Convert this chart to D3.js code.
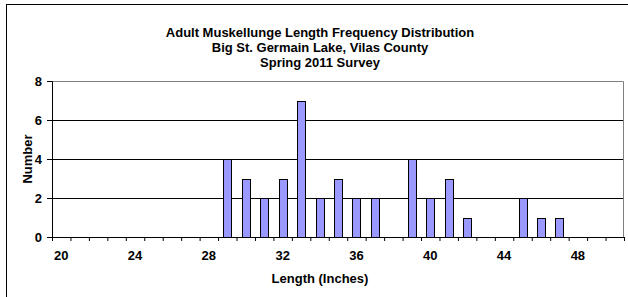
<!DOCTYPE html>
<html>
<head>
<meta charset="utf-8">
<script src="https://cdn.jsdelivr.net/npm/d3@7"></script>
<style>
  body { margin: 0; background: #fff; }
  text { font-family: "Liberation Sans", Arial, sans-serif; font-weight: bold; }
</style>
</head>
<body>
<svg id="chart" width="628" height="297"></svg>
<script>
// lengths in inches (one category per inch)
const lengths = d3.range(20, 51);
// number of fish per inch group
const counts = [0, 0, 0, 0, 0, 0, 0, 0, 0, 4, 3, 2, 3, 7, 2, 3, 2, 2, 0, 4, 2, 3, 1, 0, 0, 2, 1, 1, 0, 0, 0];
const xLabels = [20, 24, 28, 32, 36, 40, 44, 48];
const yTicks = [0, 2, 4, 6, 8];
const titleLines = [
  'Adult Muskellunge Length Frequency Distribution',
  'Big St. Germain Lake, Vilas County',
  'Spring 2011 Survey'
];

const data = lengths.map((d, i) => ({ len: d, n: counts[i] }));

const margin = { top: 81, right: 4, bottom: 60, left: 52 };
const W = 628, H = 297;
const width = W - margin.left - margin.right;
const height = H - margin.top - margin.bottom;
const fontSize = '13px';

const svg = d3.select('#chart');

// outer chart border
svg.append('rect')
  .attr('x', 6.5).attr('y', 4.5)
  .attr('width', 640).attr('height', 320)
  .style('fill', 'white').style('stroke', '#000');

// titles
svg.append('g').attr('class', 'title')
  .selectAll('text')
  .data(titleLines)
  .join('text')
    .attr('x', 320)
    .attr('y', (d, i) => 36.5 + i * 15)
    .attr('text-anchor', 'middle')
    .style('font-size', fontSize)
    .text(d => d);

const g = svg.append('g')
  .attr('class', 'chart-group')
  .attr('transform', `translate(${margin.left}, ${margin.top})`);

const x = d3.scaleBand()
  .domain(lengths)
  .range([0, width])
  .paddingInner(0.57)
  .paddingOuter(0.285);

const xEdge = d3.scaleLinear()
  .domain([0, lengths.length])
  .range([0, width]);

const y = d3.scaleLinear()
  .domain([0, 8])
  .range([height, 0]);

// grid lines
g.append('g').attr('class', 'grid--y')
  .selectAll('line')
  .data(yTicks.filter(d => d > 0 && d < 8))
  .join('line')
    .attr('x1', 0).attr('x2', width)
    .attr('y1', d => Math.round(y(d)) + 0.5)
    .attr('y2', d => Math.round(y(d)) + 0.5)
    .style('stroke', '#000');

// plot frame (top and right in gray)
g.append('path')
  .attr('d', `M0.5,${Math.round(y(8)) + 0.5}H${width - 0.5}V${height}`)
  .style('fill', 'none')
  .style('stroke', '#808080');

// bars
g.append('g').attr('class', 'bars')
  .selectAll('rect')
  .data(data.filter(d => d.n > 0))
  .join('rect')
    .attr('x', d => Math.round(x(d.len)) + 0.5)
    .attr('y', d => Math.round(y(d.n)) + 0.5)
    .attr('width', Math.round(x.bandwidth()))
    .attr('height', d => Math.round(y(0)) - Math.round(y(d.n)))
    .style('fill', '#9999FF')
    .style('stroke', '#000');

const styleText = s => s.selectAll('text')
  .style('font-size', fontSize)
  .style('font-family', '"Liberation Sans", Arial, sans-serif')
  .style('font-weight', 'bold')
  .style('fill', '#000');

// x axis: ticks at category edges
const xAxis = g.append('g').attr('class', 'axis--x')
  .attr('transform', `translate(0, ${height})`);
xAxis.append('g')
  .call(d3.axisBottom(xEdge).tickValues(d3.range(lengths.length + 1)).tickSize(4).tickFormat(''))
  .call(s => s.selectAll('line,path').style('stroke', '#000'));

// x labels
const xLab = d3.scaleBand().domain(lengths).range([0, width]);
xAxis.append('g')
  .call(d3.axisBottom(xLab).tickValues(xLabels).tickSize(0).tickPadding(14))
  .call(s => s.select('.domain').remove())
  .call(styleText);

// y axis
g.append('g').attr('class', 'axis--y')
  .call(d3.axisLeft(y).tickValues(yTicks).tickSize(5).tickPadding(5).tickFormat(d3.format('d')))
  .call(s => s.selectAll('line,path').style('stroke', '#000'))
  .call(styleText);

// axis titles
svg.append('text')
  .attr('x', 320).attr('y', 283)
  .attr('text-anchor', 'middle')
  .style('font-size', fontSize)
  .text('Length (Inches)');

svg.append('text')
  .attr('transform', `translate(32, ${margin.top + height / 2}) rotate(-90)`)
  .attr('text-anchor', 'middle')
  .style('font-size', fontSize)
  .text('Number');
</script>
</body>
</html>
